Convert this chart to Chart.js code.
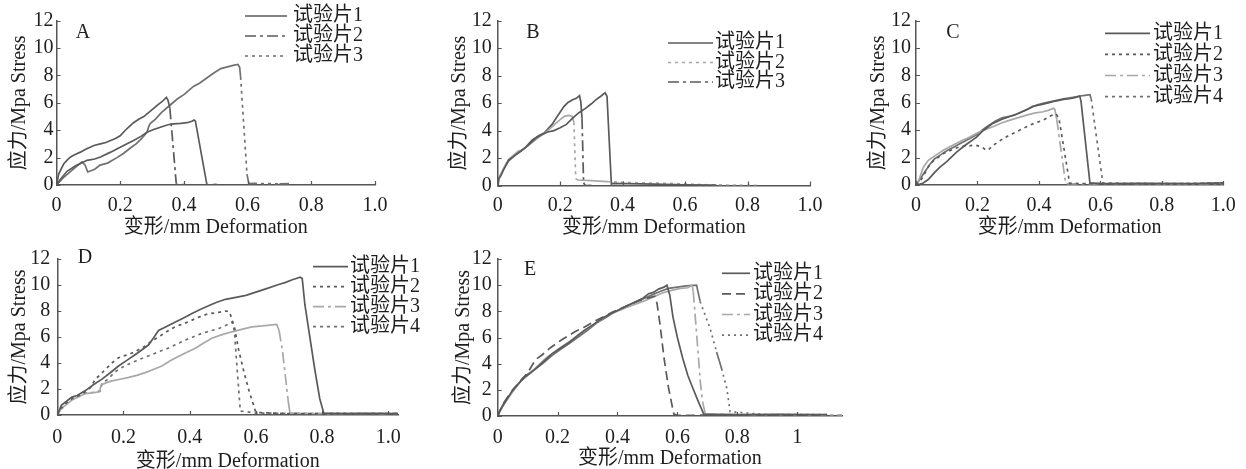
<!DOCTYPE html>
<html>
<head>
<meta charset="utf-8">
<title>试验片 应力-变形曲线</title>
<script src="https://cdn.jsdelivr.net/npm/chart.js@4.4.1/dist/chart.umd.min.js"></script>
<style>
  html, body { margin: 0; padding: 0; background: #fff; overflow: hidden; }
  #page { position: relative; width: 1246px; height: 469px; }
  #page canvas { position: absolute; }
</style>
</head>
<body>
<div id="page">
  <canvas id="chartA" width="415" height="240" style="left:0;top:0"></canvas>
  <canvas id="chartB" width="415" height="240" style="left:420px;top:0"></canvas>
  <canvas id="chartC" width="406" height="240" style="left:840px;top:0"></canvas>
  <canvas id="chartD" width="420" height="235" style="left:0;top:240px"></canvas>
  <canvas id="chartE" width="440" height="235" style="left:420px;top:240px"></canvas>
</div>
<script>
// ---- data: [deformation mm, stress MPa] ----
const specimenLabels = ['试验片1', '试验片2', '试验片3', '试验片4'];
const xTitle = '变形/mm Deformation';
const yTitle = '应力/Mpa Stress';
const deformTicks = [0, 0.2, 0.4, 0.6, 0.8, 1.0];
const deformTickLabels = ['0', '0.2', '0.4', '0.6', '0.8', '1.0'];
const deformTickLabelsE = ['0', '0.2', '0.4', '0.6', '0.8', '1'];
const stressTicks = [0, 2, 4, 6, 8, 10, 12];
const stressTickLabels = ['0', '2', '4', '6', '8', '10', '12'];

// A
const a1 = [[0,0],[0.01,0.35],[0.033,1.0],[0.06,1.4],[0.096,1.8],[0.12,1.9],[0.138,2.05],[0.17,2.4],[0.2,2.75],[0.22,3.0],[0.242,3.25],[0.265,3.55],[0.284,3.85],[0.305,4.05],[0.326,4.22],[0.35,4.4],[0.368,4.47],[0.39,4.5],[0.41,4.55],[0.425,4.65],[0.432,4.75],[0.436,4.68],[0.472,0.05],[0.48,0],[0.5,0.05],[0.51,0]];
const a2 = [[0,0],[0.007,0.8],[0.015,1.2],[0.023,1.55],[0.035,1.85],[0.044,2.05],[0.06,2.25],[0.075,2.4],[0.09,2.6],[0.107,2.78],[0.12,2.9],[0.138,3.0],[0.155,3.1],[0.17,3.25],[0.185,3.4],[0.2,3.6],[0.216,4.0],[0.23,4.3],[0.242,4.55],[0.258,4.8],[0.274,5.0],[0.29,5.3],[0.305,5.6],[0.318,5.85],[0.332,6.1],[0.345,6.4],[0.35,6.2],[0.356,5.6],[0.376,0.1],[0.38,0],[0.4,0.03]];
const a3 = [[0,0],[0.02,0.5],[0.04,0.9],[0.06,1.3],[0.08,1.68],[0.09,1.45],[0.098,0.95],[0.12,1.15],[0.137,1.45],[0.16,1.6],[0.19,2.0],[0.21,2.3],[0.232,2.7],[0.25,3.0],[0.263,3.3],[0.275,3.6],[0.284,3.85],[0.29,4.3],[0.295,4.5],[0.31,4.8],[0.33,5.3],[0.358,5.86],[0.38,6.3],[0.4,6.6],[0.43,7.2],[0.45,7.45],[0.474,7.85],[0.495,8.2],[0.516,8.5],[0.54,8.65],[0.558,8.75],[0.57,8.8],[0.575,8.6],[0.578,7.9],[0.598,0.8],[0.604,0.1],[0.62,0.12],[0.7,0.08],[0.73,0.1]];
// B
const b1 = [[0,0],[0.003,0.5],[0.01,0.7],[0.02,1.2],[0.035,1.85],[0.05,2.1],[0.07,2.45],[0.088,2.75],[0.11,3.2],[0.125,3.5],[0.14,3.7],[0.16,3.9],[0.18,4.0],[0.2,4.2],[0.22,4.45],[0.24,4.9],[0.26,5.3],[0.28,5.6],[0.3,5.95],[0.315,6.25],[0.33,6.5],[0.344,6.75],[0.35,6.5],[0.364,0.1],[0.37,0.15],[0.5,0.1],[0.6,0.05],[0.7,0.03]];
const b2 = [[0,0],[0.005,0.6],[0.02,1.3],[0.035,1.9],[0.05,2.2],[0.065,2.5],[0.08,2.6],[0.1,2.95],[0.125,3.4],[0.15,3.8],[0.17,4.2],[0.185,4.5],[0.2,4.8],[0.215,5.05],[0.228,5.1],[0.238,5.05],[0.244,4.6],[0.25,0.5],[0.256,0.4],[0.3,0.35],[0.35,0.28],[0.45,0.2],[0.55,0.15],[0.66,0.06],[0.84,0]];
const b3 = [[0,0],[0.004,0.5],[0.02,1.25],[0.035,1.8],[0.055,2.2],[0.075,2.5],[0.09,2.8],[0.11,3.3],[0.13,3.6],[0.15,3.85],[0.174,4.45],[0.19,5.0],[0.212,5.75],[0.225,6.05],[0.24,6.25],[0.252,6.35],[0.262,6.55],[0.266,6.1],[0.27,4.9],[0.275,0.2],[0.28,0],[0.3,0.02]];
// C
const c1 = [[0,0],[0.02,0.1],[0.04,0.4],[0.06,0.9],[0.078,1.3],[0.1,1.7],[0.132,2.4],[0.16,2.9],[0.197,3.5],[0.22,4.0],[0.25,4.5],[0.28,4.8],[0.306,5.0],[0.33,5.2],[0.36,5.5],[0.38,5.75],[0.403,5.85],[0.43,6.0],[0.457,6.15],[0.48,6.25],[0.5,6.3],[0.52,6.4],[0.533,6.5],[0.537,6.1],[0.566,0.15],[0.6,0.1],[0.75,0.12],[0.9,0.1],[1.0,0.15]];
const c2 = [[0,0],[0.015,0.3],[0.03,0.9],[0.046,1.58],[0.065,1.9],[0.089,2.3],[0.12,2.6],[0.143,2.8],[0.17,2.85],[0.192,2.92],[0.213,2.8],[0.225,2.6],[0.235,2.55],[0.25,2.9],[0.265,3.1],[0.284,3.4],[0.305,3.65],[0.328,3.9],[0.35,4.15],[0.371,4.38],[0.39,4.55],[0.414,4.74],[0.43,4.95],[0.447,5.15],[0.455,5.2],[0.465,4.9],[0.5,0.12],[0.55,0.1],[0.7,0.08],[0.85,0.1],[1.0,0.12]];
const c3 = [[0,0],[0.01,0.4],[0.024,1.3],[0.04,1.8],[0.066,2.2],[0.09,2.55],[0.121,2.92],[0.15,3.25],[0.175,3.5],[0.197,3.77],[0.22,4.0],[0.25,4.26],[0.28,4.55],[0.306,4.74],[0.33,4.9],[0.36,5.1],[0.385,5.25],[0.414,5.35],[0.43,5.45],[0.448,5.6],[0.452,5.5],[0.458,4.8],[0.487,0.1],[0.55,0.08],[0.7,0.1],[0.9,0.08],[1.0,0.1]];
const c4 = [[0,0],[0.015,0.5],[0.03,1.0],[0.045,1.5],[0.06,1.9],[0.08,2.2],[0.1,2.5],[0.125,2.8],[0.15,3.1],[0.175,3.4],[0.2,3.7],[0.22,4.1],[0.24,4.4],[0.26,4.7],[0.28,4.9],[0.3,5.0],[0.32,5.1],[0.345,5.35],[0.37,5.6],[0.395,5.85],[0.42,6.0],[0.45,6.15],[0.48,6.3],[0.51,6.4],[0.535,6.5],[0.55,6.55],[0.566,6.6],[0.57,6.3],[0.608,0.15],[0.7,0.12],[0.85,0.1],[1.0,0.15]];
// D
const d1 = [[0,0],[0.005,0.3],[0.012,0.75],[0.025,1.0],[0.044,1.38],[0.06,1.5],[0.085,1.88],[0.11,2.35],[0.135,2.76],[0.16,3.25],[0.185,3.77],[0.21,4.2],[0.236,4.65],[0.255,5.0],[0.276,5.4],[0.29,5.9],[0.306,6.5],[0.33,6.8],[0.357,7.15],[0.38,7.45],[0.407,7.8],[0.43,8.1],[0.457,8.4],[0.48,8.65],[0.508,8.9],[0.54,9.05],[0.57,9.2],[0.6,9.45],[0.63,9.7],[0.669,10.04],[0.69,10.2],[0.71,10.4],[0.734,10.6],[0.74,10.5],[0.748,8.5],[0.763,6.0],[0.778,3.5],[0.793,1.25],[0.805,0.15],[0.85,0.1],[0.95,0.12],[1.03,0.1]];
const d2 = [[0,0],[0.01,0.5],[0.03,1.0],[0.05,1.35],[0.075,1.6],[0.1,2.1],[0.115,2.76],[0.13,3.1],[0.145,3.5],[0.165,4.0],[0.185,4.4],[0.2,4.55],[0.216,4.65],[0.24,4.95],[0.266,5.3],[0.285,5.7],[0.306,6.0],[0.33,6.4],[0.357,6.8],[0.38,7.0],[0.407,7.3],[0.43,7.55],[0.457,7.8],[0.48,7.85],[0.508,8.0],[0.52,7.95],[0.535,6.8],[0.548,5.0],[0.565,3.2],[0.58,1.8],[0.6,0.2],[0.7,0.1],[0.85,0.12],[1.03,0.1]];
const d3 = [[0,0],[0.012,0.5],[0.03,0.85],[0.044,1.15],[0.065,1.4],[0.085,1.65],[0.105,1.7],[0.128,1.78],[0.132,2.3],[0.145,2.45],[0.165,2.62],[0.19,2.75],[0.216,2.89],[0.24,3.05],[0.266,3.26],[0.29,3.5],[0.316,3.77],[0.34,4.15],[0.367,4.52],[0.39,4.8],[0.417,5.14],[0.44,5.5],[0.467,5.9],[0.5,6.2],[0.528,6.4],[0.56,6.6],[0.588,6.78],[0.62,6.85],[0.663,6.97],[0.67,6.5],[0.68,5.0],[0.69,2.8],[0.698,1.0],[0.703,0.15],[0.8,0.1],[0.9,0.12],[1.03,0.1]];
const d4 = [[0,0],[0.01,0.4],[0.03,0.9],[0.05,1.3],[0.07,1.55],[0.09,1.7],[0.11,1.75],[0.13,1.85],[0.135,2.4],[0.15,2.7],[0.17,3.2],[0.185,3.52],[0.21,3.85],[0.236,4.14],[0.26,4.4],[0.286,4.65],[0.31,4.9],[0.336,5.15],[0.36,5.45],[0.387,5.77],[0.41,6.0],[0.437,6.28],[0.46,6.45],[0.488,6.65],[0.51,6.9],[0.528,7.15],[0.535,6.5],[0.542,4.0],[0.548,2.0],[0.553,0.3],[0.57,0.25],[0.6,0.15],[0.75,0.12],[0.9,0.1],[1.03,0.12]];
// E
const e1 = [[0,0],[0.005,0.3],[0.02,0.9],[0.048,1.9],[0.07,2.5],[0.092,3.0],[0.11,3.3],[0.126,3.6],[0.15,4.1],[0.181,4.75],[0.21,5.2],[0.237,5.6],[0.265,6.1],[0.293,6.6],[0.32,7.0],[0.348,7.45],[0.375,7.8],[0.404,8.1],[0.43,8.4],[0.46,8.74],[0.485,9.0],[0.504,9.35],[0.52,9.45],[0.537,9.7],[0.555,9.85],[0.565,10.0],[0.575,9.2],[0.585,7.6],[0.6,6.0],[0.618,4.4],[0.635,3.1],[0.652,2.1],[0.67,1.1],[0.688,0.15],[0.8,0.1],[0.95,0.12],[1.1,0.1]];
const e2 = [[0,0],[0.005,0.3],[0.02,1.0],[0.05,2.0],[0.08,2.8],[0.1,3.3],[0.126,4.3],[0.15,4.7],[0.175,5.2],[0.204,5.68],[0.23,6.05],[0.259,6.45],[0.29,6.8],[0.32,7.2],[0.35,7.55],[0.38,7.9],[0.41,8.2],[0.44,8.5],[0.47,8.8],[0.5,9.0],[0.524,9.15],[0.532,8.6],[0.542,7.0],[0.555,4.5],[0.57,2.2],[0.588,0.15],[0.6,0.05],[0.8,0.08],[1.0,0.06],[1.1,0.08]];
const e3 = [[0,0],[0.005,0.25],[0.02,0.85],[0.05,1.85],[0.075,2.6],[0.1,3.1],[0.13,3.75],[0.16,4.4],[0.19,4.9],[0.22,5.4],[0.25,5.85],[0.28,6.4],[0.31,6.85],[0.34,7.3],[0.37,7.75],[0.4,8.0],[0.43,8.3],[0.46,8.55],[0.49,8.8],[0.52,9.1],[0.55,9.4],[0.58,9.6],[0.61,9.75],[0.635,9.8],[0.649,10.0],[0.653,9.5],[0.665,6.06],[0.677,2.5],[0.685,1.0],[0.693,0.15],[0.8,0.1],[0.95,0.1],[1.15,0.08]];
const e4 = [[0,0],[0.005,0.3],[0.02,0.95],[0.05,1.9],[0.08,2.75],[0.1,3.2],[0.12,3.5],[0.15,4.0],[0.18,4.6],[0.21,5.1],[0.24,5.55],[0.27,6.05],[0.3,6.55],[0.33,7.1],[0.36,7.5],[0.39,7.95],[0.42,8.3],[0.45,8.6],[0.48,8.9],[0.51,9.2],[0.54,9.5],[0.57,9.75],[0.6,9.85],[0.63,9.95],[0.664,10.0],[0.676,8.74],[0.709,6.7],[0.731,4.9],[0.748,3.6],[0.765,2.1],[0.776,0.33],[0.9,0.1],[1.1,0.1]];

// ---- styles ----
const FONT_FAMILY = '"Liberation Serif", "Noto Sans CJK SC", serif';
const FONT_SIZE = 20;
const TEXT = '#1e1e1e';
const AXIS = '#555555';
const DARK = '#5a5a5a', MID = '#707070', LIGHT = '#a8a8a8';
const SOLID = [], DASHDOT = [11, 4, 3, 4], DOT = [3, 4], DASH = [9, 5], FINE = [2, 4];

// long segments keep their dash pattern, short jagged ones read as solid
// (unless the series is dashed all along, third style entry)
function segLen(c) {
  return Math.hypot(c.p1.x - c.p0.x, c.p1.y - c.p0.y);
}

const panelDecor = {
  id: 'panelDecor',
  afterDraw(chart, args, o) {
    const { ctx } = chart;
    const x = chart.scales.x, y = chart.scales.y;
    ctx.save();
    // tick marks point inward
    ctx.strokeStyle = AXIS;
    ctx.lineWidth = 1.2;
    ctx.setLineDash([]);
    ctx.beginPath();
    x.ticks.forEach(t => {
      const px = Math.round(x.getPixelForValue(t.value)) + 0.5;
      ctx.moveTo(px, y.bottom);
      ctx.lineTo(px, y.bottom - 4);
    });
    y.ticks.forEach(t => {
      const py = Math.round(y.getPixelForValue(t.value)) + 0.5;
      ctx.moveTo(x.left, py);
      ctx.lineTo(x.left + 4, py);
    });
    ctx.stroke();

    ctx.font = FONT_SIZE + 'px ' + FONT_FAMILY;
    ctx.fillStyle = TEXT;
    ctx.textBaseline = 'middle';
    ctx.textAlign = 'center';
    ctx.fillText(o.letter, o.letterAt[0], o.letterAt[1]);

    ctx.textAlign = 'left';
    const lg = o.legend;
    chart.data.datasets.forEach((ds, i) => {
      const ly = lg.y + i * lg.gap;
      ctx.strokeStyle = ds.borderColor;
      ctx.lineWidth = 1.7;
      ctx.setLineDash(ds.legendDash);
      ctx.beginPath();
      ctx.moveTo(lg.x0, ly);
      ctx.lineTo(lg.x1, ly);
      ctx.stroke();
      ctx.fillText(ds.label, lg.tx, ly);
    });
    ctx.restore();
  }
};

function makePanel(p) {
  const canvas = document.getElementById(p.id);
  const W = canvas.width, H = canvas.height;
  const font = { family: FONT_FAMILY, size: FONT_SIZE };
  const xLabels = p.xLabels || deformTickLabels;
  return new Chart(canvas, {
    type: 'line',
    data: {
      datasets: p.series.map((pts, i) => {
        const [color, dash, dashAll] = p.styles[i];
        return {
          label: specimenLabels[i],
          data: pts.map(v => ({ x: v[0], y: v[1] })),
          borderColor: color,
          borderWidth: 1.7,
          borderDash: [],
          legendDash: dash,
          segment: { borderDash: c => (dashAll || segLen(c) > 18 ? dash : []) },
          pointRadius: 0,
          tension: 0,
          fill: false
        };
      })
    },
    options: {
      responsive: false,
      animation: false,
      events: [],
      layout: { padding: { left: 0, top: p.area.t, right: W - p.area.r, bottom: 0 } },
      scales: {
        x: {
          type: 'linear',
          min: 0,
          max: p.xMax,
          afterFit: s => { s.height = H - p.area.b; },
          afterBuildTicks: s => { s.ticks = deformTicks.map(v => ({ value: v })); },
          ticks: {
            autoSkip: false, maxRotation: 0, padding: p.xTickPad, color: TEXT, font,
            callback: (v, i) => xLabels[i]
          },
          grid: { display: false, drawTicks: false },
          border: { display: true, color: AXIS, width: 1.5 },
          title: { display: true, text: xTitle, color: TEXT, font, padding: { top: 0, bottom: p.xTitlePad } }
        },
        y: {
          min: 0,
          max: 12,
          afterFit: s => { s.width = p.area.l; },
          afterBuildTicks: s => { s.ticks = stressTicks.map(v => ({ value: v })); },
          ticks: {
            autoSkip: false, padding: p.yTickPad, color: TEXT, font,
            callback: (v, i) => stressTickLabels[i]
          },
          grid: { display: false, drawTicks: false },
          border: { display: true, color: AXIS, width: 1.5 },
          title: { display: true, text: yTitle, color: TEXT, font, padding: { top: p.yTitlePad, bottom: 0 } }
        }
      },
      plugins: {
        legend: { display: false },
        tooltip: { enabled: false },
        panelDecor: { letter: p.letter, letterAt: p.letterAt, legend: p.legend }
      }
    },
    plugins: [panelDecor]
  });
}

makePanel({
  id: 'chartA', letter: 'A', letterAt: [83, 33], series: [a1, a2, a3],
  styles: [[DARK, SOLID], [DARK, DASHDOT], [MID, DOT]],
  area: { l: 56.5, t: 20.7, r: 375, b: 185 }, xMax: 1.0,
  xTickPad: 9, yTickPad: 3, xTitlePad: 0, yTitlePad: 8,
  legend: { x0: 245, x1: 287, tx: 293, y: 16, gap: 20 }
});
makePanel({
  id: 'chartB', letter: 'B', letterAt: [113, 33], series: [b1, b2, b3],
  styles: [[DARK, SOLID], [LIGHT, DOT], [DARK, DASHDOT]],
  area: { l: 77.7, t: 20.7, r: 390, b: 185.5 }, xMax: 1.0,
  xTickPad: 8.5, yTickPad: 6, xTitlePad: 0, yTitlePad: 28,
  legend: { x0: 248, x1: 293, tx: 295, y: 43, gap: 19.5 }
});
makePanel({
  id: 'chartC', letter: 'C', letterAt: [113, 33], series: [c1, c2, c3, c4],
  styles: [[DARK, SOLID], [DARK, DOT, true], [LIGHT, DASHDOT], [MID, DOT]],
  area: { l: 76, t: 20.7, r: 383.3, b: 185 }, xMax: 1.0,
  xTickPad: 9, yTickPad: 5, xTitlePad: 0, yTitlePad: 26.3,
  legend: { x0: 265, x1: 310, tx: 313, y: 33.3, gap: 21.1 }
});
makePanel({
  id: 'chartD', letter: 'D', letterAt: [85, 18], series: [d1, d2, d3, d4],
  styles: [[DARK, SOLID], [DARK, DOT, true], [LIGHT, DASHDOT], [MID, DOT, true]],
  area: { l: 57.3, t: 15.7, r: 398.2, b: 175 }, xMax: 1.03,
  xTickPad: 10.5, yTickPad: 7, xTitlePad: 1.3, yTitlePad: 8,
  legend: { x0: 313, x1: 348, tx: 350, y: 26.7, gap: 20 }
});
makePanel({
  id: 'chartE', letter: 'E', letterAt: [110, 30], series: [e1, e2, e3, e4],
  styles: [[DARK, SOLID], [DARK, DASH, true], [LIGHT, DASHDOT], [MID, FINE]],
  area: { l: 77.7, t: 19, r: 422.1, b: 176 }, xMax: 1.15, xLabels: deformTickLabelsE,
  xTickPad: 9.5, yTickPad: 6, xTitlePad: 4.7, yTitlePad: 31.3,
  legend: { x0: 302, x1: 330, tx: 333, y: 33.3, gap: 20.6 }
});
</script>
</body>
</html>
